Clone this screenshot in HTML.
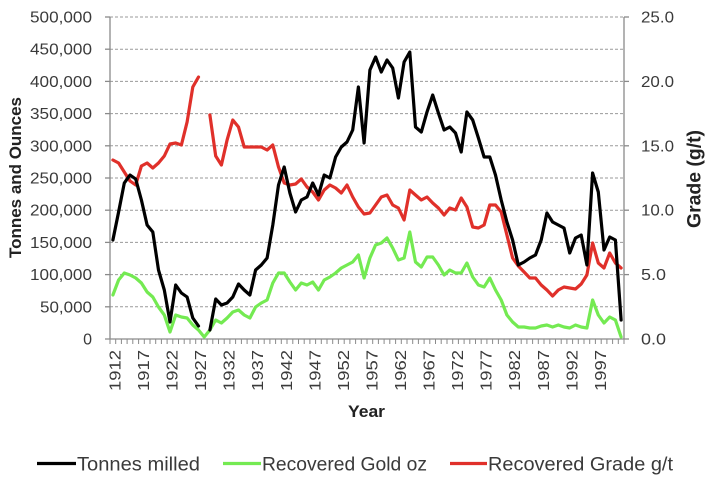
<!DOCTYPE html>
<html>
<head>
<meta charset="utf-8">
<style>
html,body{margin:0;padding:0;background:#fff;}
svg{display:block;}
text{font-family:"Liberation Sans",Arial,sans-serif;fill:#3a3a3a;}
.b{font-weight:bold;fill:#222;}
</style>
</head>
<body>
<svg width="715" height="486" viewBox="0 0 715 486" xmlns="http://www.w3.org/2000/svg">
<rect width="715" height="486" fill="#fff"/>
<!-- gridlines -->
<g stroke="#9a9a9a" stroke-width="1" stroke-dasharray="3,2" fill="none">
<line x1="110" y1="17" x2="624" y2="17"/>
<line x1="110" y1="49.2" x2="624" y2="49.2"/>
<line x1="110" y1="81.4" x2="624" y2="81.4"/>
<line x1="110" y1="113.6" x2="624" y2="113.6"/>
<line x1="110" y1="145.8" x2="624" y2="145.8"/>
<line x1="110" y1="178" x2="624" y2="178"/>
<line x1="110" y1="210.2" x2="624" y2="210.2"/>
<line x1="110" y1="242.4" x2="624" y2="242.4"/>
<line x1="110" y1="274.6" x2="624" y2="274.6"/>
<line x1="110" y1="306.8" x2="624" y2="306.8"/>
</g>
<!-- axes -->
<g stroke="#8a8a8a" stroke-width="1.3" fill="none">
<line x1="110" y1="17" x2="110" y2="339"/>
<line x1="624" y1="17" x2="624" y2="339"/>
<line x1="105" y1="339" x2="629" y2="339"/>
<!-- left ticks -->
<line x1="105" y1="17" x2="110" y2="17"/>
<line x1="105" y1="49.2" x2="110" y2="49.2"/>
<line x1="105" y1="81.4" x2="110" y2="81.4"/>
<line x1="105" y1="113.6" x2="110" y2="113.6"/>
<line x1="105" y1="145.8" x2="110" y2="145.8"/>
<line x1="105" y1="178" x2="110" y2="178"/>
<line x1="105" y1="210.2" x2="110" y2="210.2"/>
<line x1="105" y1="242.4" x2="110" y2="242.4"/>
<line x1="105" y1="274.6" x2="110" y2="274.6"/>
<line x1="105" y1="306.8" x2="110" y2="306.8"/>
<!-- right ticks -->
<line x1="624" y1="17" x2="629" y2="17"/>
<line x1="624" y1="81.4" x2="629" y2="81.4"/>
<line x1="624" y1="145.8" x2="629" y2="145.8"/>
<line x1="624" y1="210.2" x2="629" y2="210.2"/>
<line x1="624" y1="274.6" x2="629" y2="274.6"/>
</g>
<!-- bottom category ticks -->
<path stroke="#8a8a8a" stroke-width="1" fill="none" d="M110,339v5M115.7,339v5M121.4,339v5M127.1,339v5M132.8,339v5M138.6,339v5M144.3,339v5M150,339v5M155.7,339v5M161.4,339v5M167.1,339v5M172.8,339v5M178.5,339v5M184.2,339v5M190,339v5M195.7,339v5M201.4,339v5M207.1,339v5M212.8,339v5M218.5,339v5M224.2,339v5M229.9,339v5M235.6,339v5M241.4,339v5M247.1,339v5M252.8,339v5M258.5,339v5M264.2,339v5M269.9,339v5M275.6,339v5M281.3,339v5M287,339v5M292.8,339v5M298.5,339v5M304.2,339v5M309.9,339v5M315.6,339v5M321.3,339v5M327,339v5M332.7,339v5M338.4,339v5M344.2,339v5M349.9,339v5M355.6,339v5M361.3,339v5M367,339v5M372.7,339v5M378.4,339v5M384.1,339v5M389.8,339v5M395.6,339v5M401.3,339v5M407,339v5M412.7,339v5M418.4,339v5M424.1,339v5M429.8,339v5M435.5,339v5M441.2,339v5M447,339v5M452.7,339v5M458.4,339v5M464.1,339v5M469.8,339v5M475.5,339v5M481.2,339v5M486.9,339v5M492.6,339v5M498.4,339v5M504.1,339v5M509.8,339v5M515.5,339v5M521.2,339v5M526.9,339v5M532.6,339v5M538.3,339v5M544,339v5M549.8,339v5M555.5,339v5M561.2,339v5M566.9,339v5M572.6,339v5M578.3,339v5M584,339v5M589.7,339v5M595.4,339v5M601.2,339v5M606.9,339v5M612.6,339v5M618.3,339v5M624,339v5"/>

<!-- left tick labels -->
<g font-size="16" text-anchor="end">
<text x="92" y="22.5" textLength="62" lengthAdjust="spacingAndGlyphs">500,000</text>
<text x="92" y="54.7" textLength="62" lengthAdjust="spacingAndGlyphs">450,000</text>
<text x="92" y="86.9" textLength="62" lengthAdjust="spacingAndGlyphs">400,000</text>
<text x="92" y="119.1" textLength="62" lengthAdjust="spacingAndGlyphs">350,000</text>
<text x="92" y="151.3" textLength="62" lengthAdjust="spacingAndGlyphs">300,000</text>
<text x="92" y="183.5" textLength="62" lengthAdjust="spacingAndGlyphs">250,000</text>
<text x="92" y="215.7" textLength="62" lengthAdjust="spacingAndGlyphs">200,000</text>
<text x="92" y="247.9" textLength="62" lengthAdjust="spacingAndGlyphs">150,000</text>
<text x="92" y="280.1" textLength="62" lengthAdjust="spacingAndGlyphs">100,000</text>
<text x="92" y="312.3" textLength="52" lengthAdjust="spacingAndGlyphs">50,000</text>
<text x="92" y="344.5">0</text>
</g>
<!-- right tick labels -->
<g font-size="16">
<text x="641" y="22.5" textLength="33" lengthAdjust="spacingAndGlyphs">25.0</text>
<text x="641" y="86.9" textLength="33" lengthAdjust="spacingAndGlyphs">20.0</text>
<text x="641" y="151.3" textLength="33" lengthAdjust="spacingAndGlyphs">15.0</text>
<text x="641" y="215.7" textLength="33" lengthAdjust="spacingAndGlyphs">10.0</text>
<text x="641" y="280.1" textLength="25" lengthAdjust="spacingAndGlyphs">5.0</text>
<text x="641" y="344.5" textLength="25" lengthAdjust="spacingAndGlyphs">0.0</text>
</g>
<!-- year labels -->
<g font-size="16" text-anchor="end">
<text transform="translate(120.5,350) rotate(-90)" textLength="41" lengthAdjust="spacingAndGlyphs">1912</text>
<text transform="translate(149,350) rotate(-90)" textLength="41" lengthAdjust="spacingAndGlyphs">1917</text>
<text transform="translate(177.6,350) rotate(-90)" textLength="41" lengthAdjust="spacingAndGlyphs">1922</text>
<text transform="translate(206.1,350) rotate(-90)" textLength="41" lengthAdjust="spacingAndGlyphs">1927</text>
<text transform="translate(234.7,350) rotate(-90)" textLength="41" lengthAdjust="spacingAndGlyphs">1932</text>
<text transform="translate(263.2,350) rotate(-90)" textLength="41" lengthAdjust="spacingAndGlyphs">1937</text>
<text transform="translate(291.8,350) rotate(-90)" textLength="41" lengthAdjust="spacingAndGlyphs">1942</text>
<text transform="translate(320.3,350) rotate(-90)" textLength="41" lengthAdjust="spacingAndGlyphs">1947</text>
<text transform="translate(348.9,350) rotate(-90)" textLength="41" lengthAdjust="spacingAndGlyphs">1952</text>
<text transform="translate(377.5,350) rotate(-90)" textLength="41" lengthAdjust="spacingAndGlyphs">1957</text>
<text transform="translate(406,350) rotate(-90)" textLength="41" lengthAdjust="spacingAndGlyphs">1962</text>
<text transform="translate(434.6,350) rotate(-90)" textLength="41" lengthAdjust="spacingAndGlyphs">1967</text>
<text transform="translate(463.1,350) rotate(-90)" textLength="41" lengthAdjust="spacingAndGlyphs">1972</text>
<text transform="translate(491.7,350) rotate(-90)" textLength="41" lengthAdjust="spacingAndGlyphs">1977</text>
<text transform="translate(520.2,350) rotate(-90)" textLength="41" lengthAdjust="spacingAndGlyphs">1982</text>
<text transform="translate(548.8,350) rotate(-90)" textLength="41" lengthAdjust="spacingAndGlyphs">1987</text>
<text transform="translate(577.3,350) rotate(-90)" textLength="41" lengthAdjust="spacingAndGlyphs">1992</text>
<text transform="translate(605.9,350) rotate(-90)" textLength="41" lengthAdjust="spacingAndGlyphs">1997</text>
</g>

<!-- axis titles -->
<text class="b" font-size="17" text-anchor="middle" transform="translate(21,177.5) rotate(-90)" textLength="161" lengthAdjust="spacingAndGlyphs">Tonnes and Ounces</text>
<text class="b" font-size="19" text-anchor="middle" transform="translate(700.5,179) rotate(-90)" textLength="98" lengthAdjust="spacingAndGlyphs">Grade (g/t)</text>
<text class="b" font-size="17" text-anchor="middle" x="366.5" y="417" textLength="37" lengthAdjust="spacingAndGlyphs">Year</text>

<!-- series -->
<g fill="none" stroke-width="3.2" stroke-linejoin="round" stroke-linecap="round">
<polyline stroke="#74ea52" points="112.9,295 118.6,280 124.3,273 130.0,275 135.7,278 141.4,283 147.1,292 152.8,297 158.5,307 164.3,315 170.0,332 175.7,315 181.4,317 187.1,318 192.8,325 198.5,330 204.2,337 209.9,330 215.7,320 221.4,323 227.1,318 232.8,312 238.5,310 244.2,315 249.9,318 255.6,307 261.3,303 267.1,300 272.8,283 278.5,273 284.2,273 289.9,282 295.6,290 301.3,283 307.0,285 312.7,282 318.5,290 324.2,280 329.9,277 335.6,273 341.3,268 347.0,265 352.7,262 358.4,255 364.1,278 369.9,258 375.6,245 381.3,243 387.0,238 392.7,248 398.4,260 404.1,258 409.8,232 415.5,262 421.3,267 427.0,257 432.7,257 438.4,265 444.1,275 449.8,270 455.5,273 461.2,273 466.9,263 472.7,277 478.4,285 484.1,287 489.8,278 495.5,290 501.2,300 506.9,315 512.6,322 518.3,327 524.1,327 529.8,328 535.5,328 541.2,326 546.9,325 552.6,327 558.3,325 564.0,327 569.7,328 575.5,325 581.2,327 586.9,328 592.6,300 598.3,315 604.0,323 609.7,317 615.4,320 621.1,337"/>
<polyline stroke="#e0302a" points="112.9,160 118.6,163 124.3,172 130.0,181 135.7,185 141.4,166 147.1,163 152.8,168 158.5,163 164.3,156 170.0,144 175.7,143 181.4,145 187.1,122 192.8,87 198.5,77"/>
<polyline stroke="#e0302a" points="209.9,115 215.7,156 221.4,165 227.1,140 232.8,120 238.5,127 244.2,147 249.9,147 255.6,147 261.3,147 267.1,150 272.8,145 278.5,167 284.2,183 289.9,185 295.6,184 301.3,179 307.0,187 312.7,192 318.5,200 324.2,190 329.9,185 335.6,188 341.3,193 347.0,185 352.7,197 358.4,207 364.1,214 369.9,213 375.6,205 381.3,197 387.0,195 392.7,205 398.4,208 404.1,220 409.8,190 415.5,195 421.3,200 427.0,197 432.7,203 438.4,208 444.1,215 449.8,208 455.5,210 461.2,198 466.9,207 472.7,227 478.4,228 484.1,225 489.8,205 495.5,205 501.2,212 506.9,235 512.6,258 518.3,266 524.1,272 529.8,278 535.5,278 541.2,285 546.9,290 552.6,296 558.3,290 564.0,287 569.7,288 575.5,289 581.2,284 586.9,275 592.6,243 598.3,263 604.0,268 609.7,253 615.4,263 621.1,268"/>
<polyline stroke="#000" points="112.9,240 118.6,212 124.3,183 130.0,175 135.7,179 141.4,200 147.1,225 152.8,232 158.5,270 164.3,290 170.0,322 175.7,285 181.4,293 187.1,297 192.8,318 198.5,326"/>
<polyline stroke="#000" points="209.9,330 215.7,299 221.4,305 227.1,303 232.8,297 238.5,284 244.2,290 249.9,295 255.6,270 261.3,265 267.1,258 272.8,225 278.5,185 284.2,167 289.9,193 295.6,212 301.3,200 307.0,197 312.7,183 318.5,195 324.2,175 329.9,178 335.6,157 341.3,147 347.0,142 352.7,130 358.4,87 364.1,143 369.9,70 375.6,57 381.3,72 387.0,60 392.7,68 398.4,98 404.1,62 409.8,52 415.5,127 421.3,132 427.0,112 432.7,95 438.4,113 444.1,130 449.8,127 455.5,133 461.2,152 466.9,112 472.7,120 478.4,138 484.1,157 489.8,157 495.5,175 501.2,200 506.9,222 512.6,240 518.3,265 524.1,262 529.8,258 535.5,255 541.2,240 546.9,213 552.6,222 558.3,225 564.0,228 569.7,253 575.5,238 581.2,235 586.9,265 592.6,173 598.3,192 604.0,250 609.7,237 615.4,240 621.1,320"/>
</g>

<!-- legend -->
<g stroke-width="3.2" fill="none">
<line x1="37" y1="463.5" x2="76" y2="463.5" stroke="#000"/>
<line x1="223" y1="463.5" x2="261" y2="463.5" stroke="#74ea52"/>
<line x1="450" y1="463.5" x2="487" y2="463.5" stroke="#e0302a"/>
</g>
<g font-size="19">
<text x="77" y="470.5" textLength="123" lengthAdjust="spacingAndGlyphs">Tonnes milled</text>
<text x="262" y="470.5" textLength="165" lengthAdjust="spacingAndGlyphs">Recovered Gold oz</text>
<text x="488" y="470.5" textLength="185" lengthAdjust="spacingAndGlyphs">Recovered Grade g/t</text>
</g>
</svg>
</body>
</html>
